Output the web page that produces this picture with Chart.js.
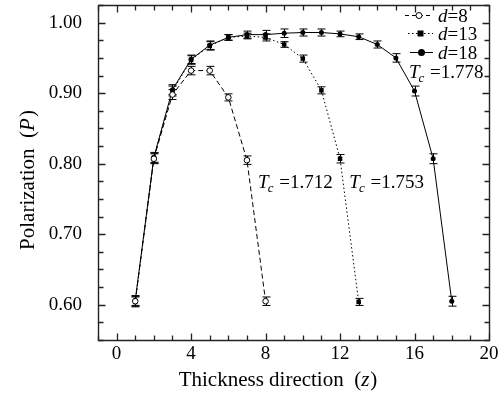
<!DOCTYPE html>
<html>
<head>
<meta charset="utf-8">
<script src="https://cdn.jsdelivr.net/npm/chart.js@4.4.1/dist/chart.umd.min.js"></script>
<style>
  html, body { margin: 0; padding: 0; background: #fff; }
  #wrap { width: 498px; height: 400px; }
</style>
</head>
<body>
<div id="wrap"><canvas id="polChart"></canvas></div>
<script>
// datos
const z8 = [1, 2, 3, 4, 5, 6, 7, 8];
const p8 = [0.605, 0.807, 0.898, 0.932, 0.932, 0.894, 0.805, 0.605];
const e8 = [0.007, 0.007, 0.007, 0.006, 0.006, 0.005, 0.006, 0.006];

const z13 = [1, 2, 3, 4, 5, 6, 7, 8, 9, 10, 11, 12, 13];
const p13 = [0.604, 0.808, 0.903, 0.947, 0.967, 0.979, 0.981, 0.979, 0.969, 0.949, 0.904, 0.807, 0.604];
const e13 = [0.007, 0.007, 0.007, 0.006, 0.006, 0.004, 0.004, 0.005, 0.004, 0.005, 0.005, 0.006, 0.005];

const z18 = [1, 2, 3, 4, 5, 6, 7, 8, 9, 10, 11, 12, 13, 14, 15, 16, 17, 18];
const p18 = [0.606, 0.809, 0.905, 0.948, 0.968, 0.979, 0.983, 0.983, 0.985, 0.986, 0.986, 0.984, 0.980, 0.969, 0.950, 0.903, 0.807, 0.605];
const e18 = [0.007, 0.007, 0.007, 0.006, 0.006, 0.004, 0.005, 0.006, 0.006, 0.005, 0.005, 0.004, 0.004, 0.005, 0.006, 0.007, 0.007, 0.007];

const seriesNames = ['8', '13', '18'];
const tcLabels = ['1.712', '1.753', '1.778'];
const tcAnchorZ = [7.6, 12.5, 15.7];
const tcAnchorP = [0.765, 0.765, 0.921];

const xTickLabels = [0, 4, 8, 12, 16, 20];
const yTickLabels = [0.6, 0.7, 0.8, 0.9, 1.0];

const X_MIN = -1, X_MAX = 20, Y_MIN = 0.55, Y_MAX = 1.025;
const FONT = "'Liberation Serif', serif";

function toPoints(xs, ys) {
    return xs.map(function (x, i) { return { x: x, y: ys[i] }; });
}

// texto con partes normales y cursivas
function mixedText(ctx, parts, x, y, size) {
    parts.forEach(function (p) {
        ctx.font = (p.it ? 'italic ' : '') + (p.size || size) + 'px ' + FONT;
        ctx.fillText(p.t, x, y + (p.dy || 0));
        x += ctx.measureText(p.t).width + (p.dx || 0);
    });
}
function mixedWidth(ctx, parts, size) {
    var w = 0;
    parts.forEach(function (p) {
        ctx.font = (p.it ? 'italic ' : '') + (p.size || size) + 'px ' + FONT;
        w += ctx.measureText(p.t).width + (p.dx || 0);
    });
    return w;
}

// barras de error, marco con tics y textos
const decoPlugin = {
    id: 'deco',
    beforeDatasetsDraw(chart) {
        const ctx = chart.ctx;
        const xs = chart.scales.x, ys = chart.scales.y;
        const errs = [e8, e13, e18];
        ctx.save();
        ctx.strokeStyle = '#000';
        ctx.lineWidth = 1;
        chart.data.datasets.forEach(function (ds, k) {
            ds.data.forEach(function (pt, i) {
                const px = Math.round(xs.getPixelForValue(pt.x)) + 0.5;
                const y1 = ys.getPixelForValue(pt.y + errs[k][i]);
                const y2 = ys.getPixelForValue(pt.y - errs[k][i]);
                ctx.beginPath();
                ctx.moveTo(px, y1); ctx.lineTo(px, y2);
                ctx.moveTo(px - 4, y1); ctx.lineTo(px + 4, y1);
                ctx.moveTo(px - 4, y2); ctx.lineTo(px + 4, y2);
                ctx.stroke();
            });
        });
        ctx.restore();
    },
    afterDraw(chart) {
        const ctx = chart.ctx;
        const xs = chart.scales.x, ys = chart.scales.y;
        const L = Math.round(xs.getPixelForValue(X_MIN)) + 0.5;
        const R = Math.round(xs.getPixelForValue(X_MAX)) + 0.5;
        const T = Math.round(ys.getPixelForValue(Y_MAX)) + 0.5;
        const B = Math.round(ys.getPixelForValue(Y_MIN)) + 0.5;
        ctx.save();
        ctx.strokeStyle = '#222';
        ctx.lineWidth = 1.4;
        ctx.beginPath();
        ctx.moveTo(L, T); ctx.lineTo(R, T); ctx.lineTo(R, B); ctx.lineTo(L, B); ctx.closePath();
        ctx.stroke();

        ctx.strokeStyle = '#222';
        ctx.lineWidth = 1.3;
        ctx.beginPath();
        for (var v = X_MIN; v <= X_MAX; v++) {
            const px = Math.round(xs.getPixelForValue(v)) + 0.5;
            const len = (xTickLabels.indexOf(v) >= 0) ? 7 : 5;
            ctx.moveTo(px, B); ctx.lineTo(px, B - len);
            ctx.moveTo(px, T); ctx.lineTo(px, T + len);
        }
        ys.ticks.forEach(function (t) {
            const py = Math.round(ys.getPixelForValue(t.value)) + 0.5;
            const major = Math.abs(t.value * 10 - Math.round(t.value * 10)) < 1e-6;
            const len = major ? 7 : 5;
            ctx.moveTo(L, py); ctx.lineTo(L + len, py);
            ctx.moveTo(R, py); ctx.lineTo(R - len, py);
        });
        ctx.stroke();

        ctx.fillStyle = '#000';
        ctx.textBaseline = 'alphabetic';

        // titulos de ejes
        const xt = [{ t: 'Thickness direction  (' }, { t: 'z', it: true, dx: 1 }, { t: ')' }];
        const wx = mixedWidth(ctx, xt, 21);
        mixedText(ctx, xt, 278 - wx / 2, 386, 21);

        ctx.save();
        ctx.translate(34, 180);
        ctx.rotate(-Math.PI / 2);
        const yt = [{ t: 'Polarization  (' }, { t: 'P', it: true, dx: 1 }, { t: ')' }];
        const wy = mixedWidth(ctx, yt, 21);
        mixedText(ctx, yt, -wy / 2, 0, 21);
        ctx.restore();

        // anotaciones Tc
        tcLabels.forEach(function (lab, i) {
            const px = xs.getPixelForValue(tcAnchorZ[i]);
            const py = ys.getPixelForValue(tcAnchorP[i]);
            mixedText(ctx, [
                { t: 'T', it: true, dx: -1 },
                { t: 'c', it: true, size: 13, dy: 4, dx: 1 },
                { t: ' =' + lab }
            ], px, py, 19);
        });

        // leyenda
        const rows = [15, 33, 52];
        const dashes = [[4, 3], [1.5, 2.5], []];
        const lx1 = [405, 408, 410], lx2 = 433;
        chart.data.datasets.forEach(function (ds, k) {
            const ry = rows[k] + 0.5;
            ctx.strokeStyle = '#000';
            ctx.setLineDash(dashes[k]);
            ctx.lineWidth = 1;
            ctx.beginPath();
            ctx.moveTo(lx1[k], ry); ctx.lineTo(lx2, ry);
            ctx.stroke();
            ctx.setLineDash([]);
            const mx = (lx1[k] + lx2) / 2;
            ctx.beginPath();
            if (k === 0) {
                ctx.fillStyle = '#fff';
                ctx.arc(mx, ry, 3, 0, Math.PI * 2);
                ctx.fill(); ctx.stroke();
            } else if (k === 1) {
                ctx.fillStyle = '#000';
                ctx.fillRect(mx - 3, ry - 3, 6, 6);
            } else {
                ctx.fillStyle = '#000';
                ctx.arc(mx, ry, 3.5, 0, Math.PI * 2);
                ctx.fill();
            }
            ctx.fillStyle = '#000';
            mixedText(ctx, [{ t: 'd', it: true }, { t: '=' + seriesNames[k] }], 438, ry + 6, 19);
        });
        ctx.restore();
    }
};

document.addEventListener('DOMContentLoaded', function () {
    var ctx = document.getElementById('polChart').getContext('2d');

    var myChart = new Chart(ctx, {
        type: 'scatter',
        data: {
            datasets: [{
                label: 'd=8',
                data: toPoints(z8, p8),
                showLine: true,
                borderColor: '#000',
                borderWidth: 1,
                borderDash: [5, 3],
                pointStyle: 'circle',
                pointRadius: 2.8,
                pointBackgroundColor: '#fff',
                pointBorderColor: '#000',
                pointBorderWidth: 1
            }, {
                label: 'd=13',
                data: toPoints(z13, p13),
                showLine: true,
                borderColor: '#000',
                borderWidth: 1,
                borderDash: [1.5, 2.5],
                pointStyle: 'rect',
                pointRadius: 3.2,
                pointBackgroundColor: '#000',
                pointBorderColor: '#000',
                pointBorderWidth: 0
            }, {
                label: 'd=18',
                data: toPoints(z18, p18),
                showLine: true,
                borderColor: '#000',
                borderWidth: 1,
                pointStyle: 'circle',
                pointRadius: 2.5,
                pointBackgroundColor: '#000',
                pointBorderColor: '#000',
                pointBorderWidth: 0
            }]
        },
        options: {
            responsive: true,
            maintainAspectRatio: false,
            animation: false,
            layout: { padding: { top: 4, right: 9, left: 0, bottom: 0 } },
            plugins: {
                legend: { display: false },
                tooltip: { enabled: false }
            },
            scales: {
                x: {
                    type: 'linear',
                    min: X_MIN,
                    max: X_MAX,
                    grid: { display: false },
                    border: { display: false },
                    afterFit: function (scale) {
                        scale.height = 60;
                        scale.paddingLeft = 0;
                        scale.paddingRight = 0;
                    },
                    ticks: {
                        stepSize: 1,
                        autoSkip: false,
                        maxRotation: 0,
                        padding: -5,
                        color: '#000',
                        font: { family: FONT, size: 19 },
                        callback: function (v) {
                            return xTickLabels.indexOf(v) >= 0 ? String(v) : '';
                        }
                    }
                },
                y: {
                    type: 'linear',
                    min: Y_MIN,
                    max: Y_MAX,
                    grid: { display: false },
                    border: { display: false },
                    afterFit: function (scale) {
                        scale.width = 98;
                        scale.paddingTop = 0;
                        scale.paddingBottom = 0;
                    },
                    afterBuildTicks: function (scale) {
                        var t = [];
                        for (var i = 0; i <= 19; i++) t.push({ value: Math.round((Y_MIN + i * 0.025) * 1000) / 1000 });
                        scale.ticks = t;
                    },
                    ticks: {
                        autoSkip: false,
                        padding: 8,
                        color: '#000',
                        font: { family: FONT, size: 19 },
                        callback: function (v) {
                            for (var i = 0; i < yTickLabels.length; i++) {
                                if (Math.abs(yTickLabels[i] - v) < 1e-6) return v.toFixed(2);
                            }
                            return '';
                        }
                    }
                }
            }
        },
        plugins: [decoPlugin]
    });
});
</script>
</body>
</html>
